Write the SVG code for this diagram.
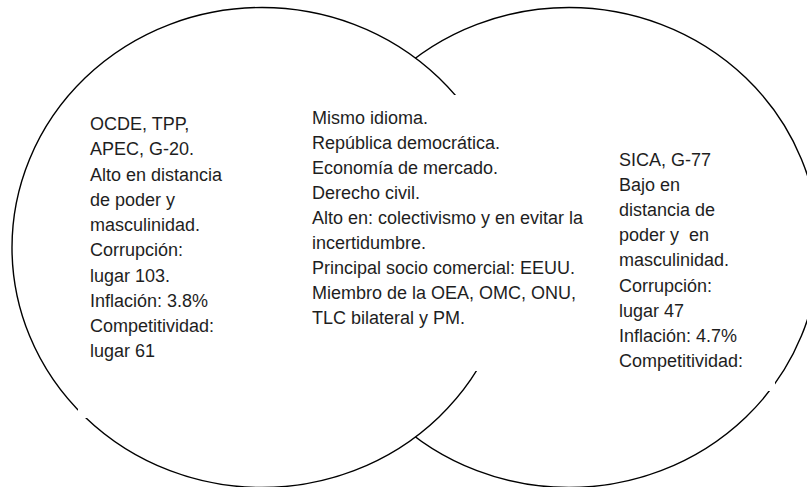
<svg xmlns="http://www.w3.org/2000/svg" width="807" height="487" viewBox="0 0 807 487">
  <style>
    .ring { fill: #ffffff; stroke: #000000; stroke-width: 1.4; }
    .box { fill: #ffffff; stroke: none; }
    .txt { font-family: "Liberation Sans", Arial, sans-serif; font-size: 18px; fill: #1e1e1e; }
  </style>
  <defs>
    <clipPath id="clipRight">
      <rect x="610" y="140" width="165" height="245"/>
    </clipPath>
  </defs>
  <rect x="0" y="0" width="807" height="487" fill="#ffffff"/>
  <g id="circle-right">
    <ellipse class="ring" cx="569" cy="247.5" rx="250" ry="240"/>
  </g>
  <g id="circle-left">
    <ellipse class="ring" cx="262" cy="247.5" rx="250" ry="240"/>
  </g>
  <g id="connectors"></g>
  <g id="text-left">
    <rect class="box" x="78" y="100" width="154" height="318"/>
    <text class="txt">
      <tspan x="90" y="130">OCDE, TPP,</tspan>
      <tspan x="90" y="155.25">APEC, G-20.</tspan>
      <tspan x="90" y="180.5">Alto en distancia</tspan>
      <tspan x="90" y="205.75">de poder y</tspan>
      <tspan x="90" y="231">masculinidad.</tspan>
      <tspan x="90" y="256.25">Corrupción:</tspan>
      <tspan x="90" y="281.5">lugar 103.</tspan>
      <tspan x="90" y="306.75">Inflación: 3.8%</tspan>
      <tspan x="90" y="332">Competitividad:</tspan>
      <tspan x="90" y="357.25">lugar 61</tspan>
    </text>
  </g>
  <g id="text-middle">
    <rect class="box" x="300" y="95" width="295" height="276"/>
    <text class="txt">
      <tspan x="312" y="123.5">Mismo idioma.</tspan>
      <tspan x="312" y="148.6">República democrática.</tspan>
      <tspan x="312" y="173.7">Economía de mercado.</tspan>
      <tspan x="312" y="198.8">Derecho civil.</tspan>
      <tspan x="312" y="223.9">Alto en: colectivismo y en evitar la</tspan>
      <tspan x="312" y="249">incertidumbre.</tspan>
      <tspan x="312" y="274.1">Principal socio comercial: EEUU.</tspan>
      <tspan x="312" y="299.2">Miembro de la OEA, OMC, ONU,</tspan>
      <tspan x="312" y="324.3">TLC bilateral y PM.</tspan>
    </text>
  </g>
  <g id="text-right">
    <rect class="box" x="610" y="140" width="165" height="251"/>
    <text class="txt" clip-path="url(#clipRight)">
      <tspan x="619" y="165.5">SICA, G-77</tspan>
      <tspan x="619" y="190.7">Bajo en</tspan>
      <tspan x="619" y="215.9">distancia de</tspan>
      <tspan x="619" y="241.1">poder y&#160; en</tspan>
      <tspan x="619" y="266.3">masculinidad.</tspan>
      <tspan x="619" y="291.5">Corrupción:</tspan>
      <tspan x="619" y="316.7">lugar 47</tspan>
      <tspan x="619" y="341.9">Inflación: 4.7%</tspan>
      <tspan x="619" y="367.1">Competitividad:</tspan>
    </text>
  </g>
</svg>
